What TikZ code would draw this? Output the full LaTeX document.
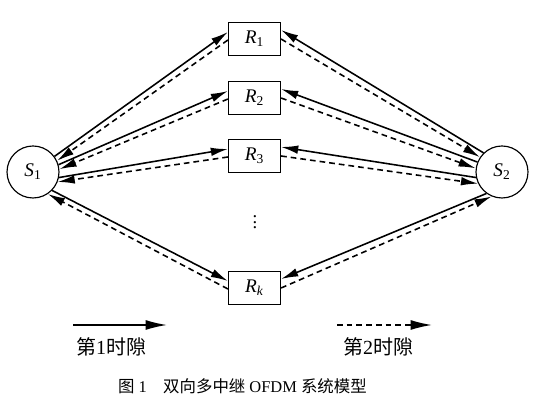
\documentclass[tikz,border=0pt]{standalone}
\usepackage{fontspec}
\setmainfont{Liberation Serif}
\newfontfamily\cjk{Noto Sans CJK SC}
\usetikzlibrary{arrows.meta,calc}

\begin{document}
\begin{tikzpicture}[
    x=0.7pt, y=-0.7pt,
    source/.style={
        circle,
        draw,
        thick,
        minimum size=36.4pt,
        inner sep=0pt,
        font=\fontsize{13.5}{15}\selectfont
    },
    relay/.style={
        rectangle,
        draw,
        thick,
        minimum width=36.4pt,
        minimum height=23.1pt,
        inner sep=0pt,
        font=\fontsize{13.5}{15}\selectfont
    },
    slot1/.style={line width=1.1pt, -{Latex[length=12pt,width=6pt]}},
    slot2/.style={line width=1.1pt, dash pattern=on 4pt off 2.8pt, -{Latex[length=12pt,width=6pt]}},
    legend/.style={font=\fontsize{14}{16}\selectfont\cjk}
]
\useasboundingbox (0,0) rectangle (540,415);

\node[source] (s1) at (33,172) {\textit{S}\textsubscript{1}};
\node[source] (s2) at (502,172) {\textit{S}\textsubscript{2}};

\node[relay] (r1) at (254.5,39) {\textit{R}\textsubscript{1}};
\node[relay] (r2) at (254.5,98) {\textit{R}\textsubscript{2}};
\node[relay] (r3) at (254.5,156) {\textit{R}\textsubscript{3}};
\node[relay] (rk) at (254.5,288) {\textit{R}\textsubscript{\textit{k}}};
\node[font=\fontsize{13}{13}\selectfont, inner sep=0pt] (dots) at (255,218) {$\vdots$};

% first time slot
\draw[slot1] (s1.36) -- ($(r1.west)+(0,-7)$);
\draw[slot1] (s1.16) -- ($(r2.west)+(0,-7)$);
\draw[slot1] (s1.-12) -- ($(r3.west)+(0,-7)$);
\draw[slot1] (s1.-44) -- ($(rk.west)+(0,-7)$);
\draw[slot1] (s2.134) -- ($(r1.east)+(0,-9)$);
\draw[slot1] (s2.158) -- ($(r2.east)+(0,-9)$);
\draw[slot1] (s2.192) -- ($(r3.east)+(0,-9)$);
\draw[slot1] (s2.234) -- ($(rk.east)+(0,-9)$);

% second time slot
\draw[slot2] ($(r1.west)+(0,1)$) -- (s1.25);
\draw[slot2] ($(r2.west)+(0,1)$) -- (s1.6);
\draw[slot2] ($(r3.west)+(0,1)$) -- (s1.-22);
\draw[slot2] ($(rk.west)+(0,1)$) -- (s1.-56);
\draw[slot2] (r1.east) -- (s2.146);
\draw[slot2] (r2.east) -- (s2.172);
\draw[slot2] (r3.east) -- (s2.206);
\draw[slot2] (rk.east) -- (s2.247);

% legend
\coordinate (l1a) at (73,325);
\coordinate (l1b) at (167,325);
\coordinate (l2a) at (337,325);
\coordinate (l2b) at (432,325);
\draw[slot1, -{Latex[length=15pt,width=7pt]}] (l1a) -- (l1b);
\draw[slot2, -{Latex[length=15pt,width=7pt]}] (l2a) -- (l2b);
\node[legend] (t1) at (111,347) {第{\rmfamily 1}时隙};
\node[legend] (t2) at (378,347) {第{\rmfamily 2}时隙};

\node[anchor=west, font=\fontsize{11.5}{13}\selectfont] (caption) at (113,386)
    {{\cjk 图}~1\quad{\cjk 双向多中继} OFDM {\cjk 系统模型}};
\end{tikzpicture}
\end{document}
